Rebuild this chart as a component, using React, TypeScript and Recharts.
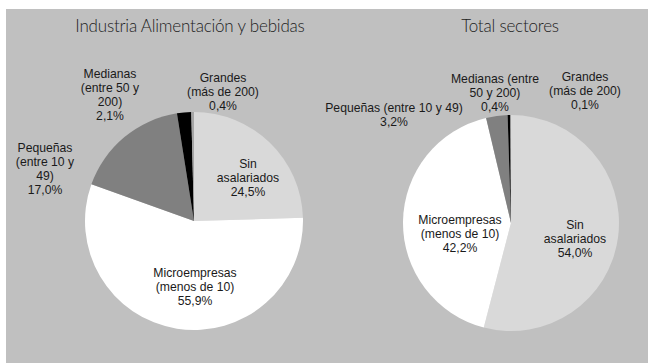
import React from "react";
import { PieChart, Pie, Cell } from "recharts";

const categories = [
  "Sin asalariados",
  "Microempresas (menos de 10)",
  "Pequeñas (entre 10 y 49)",
  "Medianas (entre 50 y 200)",
  "Grandes (más de 200)",
];
const alimentacionValues = [24.5, 55.9, 17.0, 2.1, 0.4];
const totalValues = [54.0, 42.2, 3.2, 0.4, 0.1];
const chartTitles = ["Industria Alimentación y bebidas", "Total sectores"];

const alimentacionData = categories.map((name, i) => ({ name, value: alimentacionValues[i] }));
const totalData = categories.map((name, i) => ({ name, value: totalValues[i] }));

const COLORS = ["#d9d9d9", "#ffffff", "#808080", "#000000", "#a6a6a6"];

const fmt = (v: number) => v.toFixed(1).replace(".", ",") + "%";

// label line-wrapping and placement (relative to pie center, px)
const leftLayout: { lines: string[]; dx: number; dy: number }[] = [
  { lines: ["Sin", "asalariados"], dx: 54, dy: -59 },
  { lines: ["Microempresas", "(menos de 10)"], dx: 1, dy: 50 },
  { lines: ["Pequeñas", "(entre 10 y", "49)"], dx: -149, dy: -75 },
  { lines: ["Medianas", "(entre 50 y", "200)"], dx: -84, dy: -149 },
  { lines: ["Grandes", "(más de 200)"], dx: 29, dy: -145 },
];
const rightLayout: { lines: string[]; dx: number; dy: number }[] = [
  { lines: ["Sin", "asalariados"], dx: 64, dy: 0 },
  { lines: ["Microempresas", "(menos de 10)"], dx: -51, dy: -5 },
  { lines: ["Pequeñas (entre 10 y 49)"], dx: -117, dy: -117 },
  { lines: ["Medianas (entre", "50 y 200)"], dx: -16, dy: -146 },
  { lines: ["Grandes", "(más de 200)"], dx: 74, dy: -148 },
];

const makeLabel = (layout: typeof leftLayout) => (props: any) => {
  const { cx, cy, index, value } = props;
  const l = layout[index];
  const lines = [...l.lines, fmt(value)];
  return (
    <text
      key={"lbl" + index}
      x={cx + l.dx}
      y={cy + l.dy + 5.5}
      textAnchor="middle"
      fontFamily="'Liberation Sans', Arial, sans-serif"
      fontSize={12.2}
      fill="#1a1a1a"
    >
      {lines.map((t, i) => (
        <tspan key={i} x={cx + l.dx} dy={i === 0 ? 0 : 14.3}>
          {t}
        </tspan>
      ))}
    </text>
  );
};

export default function App() {
  const W = 642;
  const H = 354;
  return (
    <div style={{ position: "absolute", left: 6, top: 9, width: W, height: H, background: "#c0c0c0" }}>
      <PieChart width={W} height={H}>
        <text
          x={184}
          y={23}
          textAnchor="middle"
          fontFamily="Lato, 'Open Sans', sans-serif"
          fontWeight={300}
          fontSize={17}
          letterSpacing={-0.2}
          fill="#222"
        >
          {chartTitles[0]}
        </text>
        <text
          x={504}
          y={23}
          textAnchor="middle"
          fontFamily="Lato, 'Open Sans', sans-serif"
          fontWeight={300}
          fontSize={17}
          letterSpacing={-0.2}
          fill="#222"
        >
          {chartTitles[1]}
        </text>
        <Pie
          data={alimentacionData}
          dataKey="value"
          nameKey="name"
          cx={183}
          cy={207}
          outerRadius={109}
          startAngle={90}
          endAngle={-270}
          stroke="none"
          isAnimationActive={false}
          labelLine={false}
          label={makeLabel(leftLayout)}
        >
          {alimentacionData.map((d, i) => (
            <Cell key={d.name} fill={COLORS[i]} />
          ))}
        </Pie>
        <Pie
          data={totalData}
          dataKey="value"
          nameKey="name"
          cx={500}
          cy={209}
          outerRadius={108}
          startAngle={90}
          endAngle={-270}
          stroke="none"
          isAnimationActive={false}
          labelLine={false}
          label={makeLabel(rightLayout)}
        >
          {totalData.map((d, i) => (
            <Cell key={d.name} fill={COLORS[i]} />
          ))}
        </Pie>
      </PieChart>
    </div>
  );
}
